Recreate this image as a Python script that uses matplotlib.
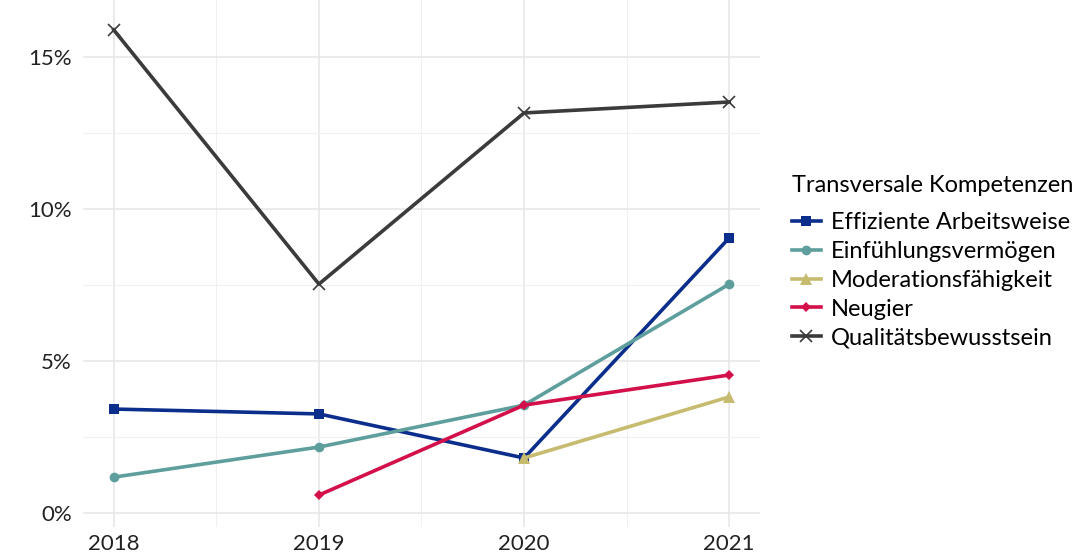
import numpy as np
import matplotlib.pyplot as plt
from matplotlib.ticker import FuncFormatter, MultipleLocator

plt.rcParams['font.family'] = ['Lato', 'DejaVu Sans']

years = [2018, 2019, 2020, 2021]

# Anteile in Prozent, None = kein Wert
effizient = [3.42, 3.26, 1.81, 9.05]
einfuehlung = [1.18, 2.17, 3.55, 7.53]
moderation = [None, None, 1.81, 3.82]
neugier = [None, 0.59, 3.55, 4.54]
qualitaet = [15.89, 7.53, 13.16, 13.52]

series = [
    ("Effiziente Arbeitsweise", effizient, "#0b2e8c", "s", 7),
    ("Einfühlungsvermögen", einfuehlung, "#5e9f9d", "o", 7),
    ("Moderationsfähigkeit", moderation, "#c6bb6f", "^", 8),
    ("Neugier", neugier, "#d3104a", "D", 5),
    ("Qualitätsbewusstsein", qualitaet, "#3b3b3b", "x", 8),
]

fig = plt.figure(figsize=(10.78, 5.53), dpi=100)
ax = fig.add_axes([0.077, 0.047, 0.628, 0.953])

for name, vals, color, marker, ms in series:
    x = [y for y, v in zip(years, vals) if v is not None]
    y = [v for v in vals if v is not None]
    ax.plot(x, y, color=color, lw=2.6, marker=marker, ms=ms,
            mew=1.2 if marker == "x" else 0, label=name, zorder=3)

ax.set_xlim(2017.85, 2021.15)
ax.set_ylim(-0.46, 16.875)
ax.set_xticks(years)
ax.xaxis.set_minor_locator(MultipleLocator(0.5))
ax.yaxis.set_major_locator(MultipleLocator(5))
ax.yaxis.set_minor_locator(MultipleLocator(2.5))
ax.yaxis.set_major_formatter(FuncFormatter(lambda v, p: f"{v:.0f}%"))

ax.grid(True, which='major', color='#e6e6e6', lw=1.1)
ax.grid(True, which='minor', color='#f0f0f0', lw=0.8)
ax.set_axisbelow(True)
for s in ax.spines.values():
    s.set_visible(False)
ax.tick_params(which='both', length=0, labelsize=16, colors='#222222')
ax.tick_params(axis='y', pad=8)
ax.tick_params(axis='x', pad=5)

leg = fig.legend(loc='center left', bbox_to_anchor=(0.724, 0.527), frameon=False,
                 title="Transversale Kompetenzen", fontsize=17, title_fontsize=17,
                 handlelength=1.2, handletextpad=0.45, labelspacing=0.33,
                 alignment='left', borderpad=0)
# etwas mehr Abstand zwischen Titel und Eintraegen
leg._legend_box.sep = 0.7 * 17

fig.savefig("out.png", dpi=100)
